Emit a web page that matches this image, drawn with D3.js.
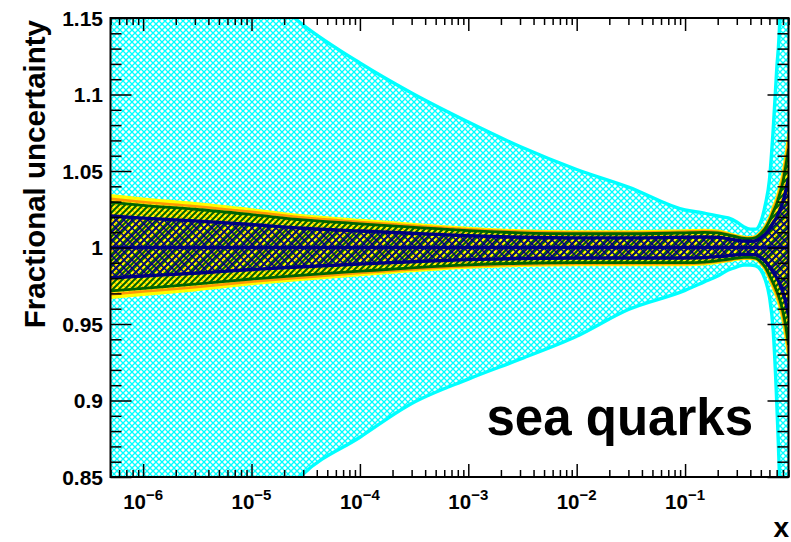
<!DOCTYPE html>
<html><head><meta charset="utf-8">
<script src="https://cdn.jsdelivr.net/npm/d3@7"></script>
<style>
html,body{margin:0;padding:0;background:#fff;}
text{font-family:"Liberation Sans",Arial,Helvetica,sans-serif;font-weight:bold;fill:#000;}
</style></head><body>
<svg id="c" width="791" height="542"></svg>
<script>
// ---- data ----
const xGrid = [5e-7,1e-6,3e-6,1e-5,3e-5,1e-4,3e-4,1e-3,3e-3,1e-2,3e-2,0.1,0.15,0.2,0.25,0.3,0.35,0.4,0.45,0.5,0.55,0.6,0.65,0.7,0.75,0.8,0.85,0.9];
const cyanUp  = [1.26,1.24,1.21,1.175,1.1454,1.1206,1.101,1.082,1.066,1.051,1.0395,1.0245,1.0225,1.0206,1.0193,1.0167,1.0134,1.012,1.012,1.0167,1.028,1.044,1.077,1.116,1.152,1.25,1.4,1.6];
const cyanLo  = [0.72,0.74,0.77,0.81,0.852,0.876,0.898,0.914,0.927,0.942,0.9595,0.972,0.9775,0.9814,0.9853,0.9873,0.9886,0.9886,0.988,0.9853,0.9788,0.968,0.946,0.90,0.84,0.75,0.6,0.4];
const yelUp   = [1.0343,1.032,1.029,1.025,1.021,1.018,1.0155,1.0128,1.0112,1.0105,1.0105,1.0112,1.0115,1.011,1.0095,1.008,1.007,1.0068,1.0075,1.0105,1.0145,1.02,1.027,1.033,1.041,1.05,1.062,1.075];
const yelLo   = [0.967,0.969,0.972,0.976,0.979,0.982,0.9845,0.9868,0.988,0.9885,0.9885,0.9885,0.989,0.990,0.991,0.992,0.9925,0.9925,0.992,0.989,0.985,0.979,0.973,0.967,0.96,0.951,0.94,0.926];
const oraUp   = [1.0318,1.0297,1.027,1.0233,1.0195,1.0167,1.0144,1.0119,1.0104,1.0098,1.0098,1.0104,1.0107,1.0102,1.0088,1.0074,1.0065,1.0063,1.0070,1.0098,1.0135,1.0186,1.0251,1.0307,1.0381,1.0465,1.0577,1.0698];
const oraLo   = [0.9693,0.9712,0.974,0.9777,0.9805,0.9833,0.9856,0.9877,0.9888,0.9893,0.9893,0.9893,0.9898,0.9907,0.9916,0.9926,0.9930,0.9930,0.9926,0.9898,0.986,0.9805,0.975,0.9693,0.9628,0.9543,0.9442,0.9312];
const grnUp   = [1.0295,1.0275,1.025,1.0215,1.018,1.0155,1.0133,1.011,1.0096,1.009,1.009,1.0096,1.0099,1.0095,1.0082,1.0069,1.006,1.0058,1.0065,1.009,1.0125,1.0172,1.0232,1.0284,1.0353,1.043,1.0533,1.0645];
const grnLo   = [0.9716,0.9733,0.976,0.9794,0.982,0.9845,0.9867,0.9886,0.9897,0.9901,0.9901,0.9901,0.9905,0.9914,0.9923,0.9931,0.9936,0.9936,0.9931,0.9905,0.9871,0.982,0.9768,0.9716,0.9656,0.9579,0.9484,0.9364];
const navUp   = [1.0206,1.0192,1.0174,1.015,1.0126,1.0108,1.0093,1.0077,1.0067,1.0063,1.0063,1.0067,1.0069,1.0066,1.0057,1.0048,1.0042,1.0041,1.0045,1.0063,1.0087,1.012,1.0162,1.0198,1.0246,1.03,1.0372,1.045];
const navLo   = [0.9802,0.9814,0.9832,0.9856,0.9874,0.9892,0.9907,0.9921,0.9928,0.9931,0.9931,0.9931,0.9934,0.994,0.9946,0.9952,0.9955,0.9955,0.9952,0.9934,0.991,0.9874,0.9838,0.9802,0.976,0.9706,0.964,0.9556];
const central = [1,1,1,1,1,1,1,1,1,1,1,1,1,1,1,1,1,1,1,1,1,1,1,1,1,1,1,1];
const yTickLabels = ["0.85","0.9","0.95","1","1.05","1.1","1.15"];
const xTickExps = [-6,-5,-4,-3,-2,-1];
const label = "sea quarks";
const xTitle = "x";
const yTitle = "Fractional uncertainty";

// ---- layout ----
const L=110.5, R=788.5, T=18, B=477;
const svg = d3.select("#c");
const x = d3.scaleLog().domain([5e-7,0.9]).range([L,R]);
const y = d3.scaleLinear().domain([0.85,1.15]).range([B,T]);

const defs = svg.append("defs");
defs.append("clipPath").attr("id","clip").append("rect")
  .attr("x",L).attr("y",T).attr("width",R-L).attr("height",B-T);
function pat(id,size,d,color,w){
  const p=defs.append("pattern").attr("id",id).attr("patternUnits","userSpaceOnUse")
    .attr("width",size).attr("height",size);
  p.append("path").attr("d",d).attr("stroke",color).attr("stroke-width",w).attr("fill","none");
}
pat("pCyan",6,"M0,0L6,6M6,0L0,6","#00ffff",1.35);
pat("pNavy",8,"M0,0L8,8M8,0L0,8","#000080",1.5);
pat("pGreen",6,"M0,6L6,0M-1,1L1,-1M5,7L7,5","#006400",2);
pat("pOrange",6,"M0,0L6,6M-1,5L1,7M5,-1L7,1","#ff9900",1.2);

const g = svg.append("g").attr("clip-path","url(#clip)");
const idx = d3.range(xGrid.length);
const area=(up,lo)=>d3.area().curve(d3.curveMonotoneX).x(i=>x(xGrid[i])).y0(i=>y(lo[i])).y1(i=>y(up[i]))(idx);
const line=(arr)=>d3.line().curve(d3.curveMonotoneX).x(i=>x(xGrid[i])).y(i=>y(arr[i]))(idx);

g.append("path").attr("d",area(cyanUp,cyanLo)).attr("fill","url(#pCyan)");
[cyanUp,cyanLo].forEach(a=>g.append("path").attr("d",line(a)).attr("fill","none").attr("stroke","#00ffff").attr("stroke-width",3.4));

g.append("path").attr("d",area(yelUp,yelLo)).attr("fill","#ffff00");
g.append("path").attr("d",area(oraUp,oraLo)).attr("fill","url(#pOrange)");
g.append("path").attr("d",area(grnUp,grnLo)).attr("fill","url(#pGreen)");
g.append("path").attr("d",area(navUp,navLo)).attr("fill","url(#pNavy)");

const edges=[[yelUp,"#ffff00",2.2],[yelLo,"#ffff00",2.2],[oraUp,"#ff9900",2.6],[oraLo,"#ff9900",2.6],
  [grnUp,"#006400",2.8],[grnLo,"#006400",2.8],[navUp,"#000080",3.4],[navLo,"#000080",3.4],[central,"#000080",3.4]];
edges.forEach(([a,c,w])=>g.append("path").attr("d",line(a)).attr("fill","none").attr("stroke",c).attr("stroke-width",w));

// ---- axes ----
const majX = xTickExps.map(e=>Math.pow(10,e));
const minX=[];
for(let e=-7;e<=0;e++) for(let k=2;k<=9;k++){const v=k*Math.pow(10,e); if(v>=5e-7&&v<=0.9) minX.push(v);}
function ticksX(vals,len){
  svg.append("g").attr("transform",`translate(0,${B})`).call(d3.axisBottom(x).tickValues(vals).tickSize(-len).tickFormat("")).call(s=>s.select(".domain").remove()).selectAll("line").attr("stroke-width",1.5);
  svg.append("g").attr("transform",`translate(0,${T})`).call(d3.axisTop(x).tickValues(vals).tickSize(-len).tickFormat("")).call(s=>s.select(".domain").remove()).selectAll("line").attr("stroke-width",1.5);
}
ticksX(majX,13); ticksX(minX,7);
const majY = yTickLabels.map(Number);
const minY = d3.range(85,116).map(v=>v/100).filter(v=>!majY.some(m=>Math.abs(m-v)<1e-6));
function ticksY(vals,len){
  svg.append("g").attr("transform",`translate(${L},0)`).call(d3.axisLeft(y).tickValues(vals).tickSize(-len).tickFormat("")).call(s=>s.select(".domain").remove()).selectAll("line").attr("stroke-width",1.5);
  svg.append("g").attr("transform",`translate(${R},0)`).call(d3.axisRight(y).tickValues(vals).tickSize(-len).tickFormat("")).call(s=>s.select(".domain").remove()).selectAll("line").attr("stroke-width",1.5);
}
ticksY(majY,21); ticksY(minY,11);
svg.append("rect").attr("x",L).attr("y",T).attr("width",R-L).attr("height",B-T).attr("fill","none").attr("stroke","#000").attr("stroke-width",2);

// tick labels
yTickLabels.forEach(t=>{
  svg.append("text").attr("x",103).attr("y",y(+t)).attr("dy","0.36em").attr("text-anchor","end").attr("font-size",21).text(t);
});
xTickExps.forEach(e=>{
  const t=svg.append("text").attr("x",x(Math.pow(10,e))).attr("y",509).attr("text-anchor","middle").attr("font-size",20.5);
  t.append("tspan").text("10");
  t.append("tspan").attr("font-size",15).attr("dy",-9).text("\u2212"+Math.abs(e));
});
svg.append("text").attr("x",789).attr("y",537).attr("text-anchor","end").attr("font-size",28).text(xTitle);
svg.append("text").attr("transform","translate(45,20) rotate(-90)").attr("text-anchor","end").attr("font-size",29.5).text(yTitle);
svg.append("text").attr("x",753).attr("y",435).attr("text-anchor","end").attr("font-size",51).text(label);
</script></body></html>
